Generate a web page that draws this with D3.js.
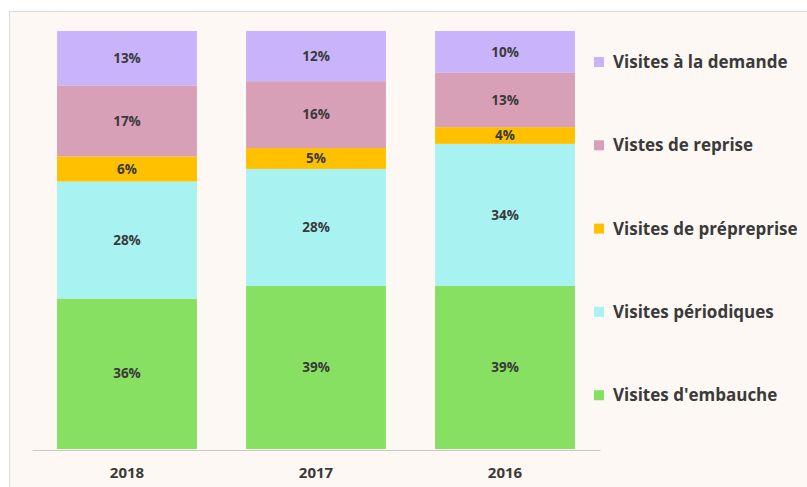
<!DOCTYPE html>
<html>
<head>
<meta charset="utf-8">
<script src="https://cdn.jsdelivr.net/npm/d3@7"></script>
<style>
  body { margin: 0; background: #ffffff; }
  text { font-family: "Open Sans", Lato, sans-serif; font-weight: bold; fill: #3a3a3a; }
</style>
</head>
<body>
<svg id="chart" width="807" height="487"></svg>
<script>
// data
var years = ["2018", "2017", "2016"];
var series = ["Visites d'embauche", "Visites périodiques", "Visites de prépreprise", "Vistes de reprise", "Visites à la demande"];
var embauche   = [36, 39, 39];
var periodiques = [28, 28, 34];
var prereprise = [6, 5, 4];
var reprise    = [17, 16, 13];
var demande    = [13, 12, 10];
var colors = ["#88e062", "#a8f3f1", "#ffc000", "#d8a0b6", "#c9b4fb"];

var rows = years.map(function(y, i) {
  return { year: y, s0: embauche[i], s1: periodiques[i], s2: prereprise[i], s3: reprise[i], s4: demande[i] };
});
var keys = ["s0", "s1", "s2", "s3", "s4"];

var svg = d3.select("#chart");

// background frame
svg.append("rect")
    .attr("x", 9.5).attr("y", 11.5)
    .attr("width", 820).attr("height", 490)
    .attr("fill", "#fdf8f3")
    .attr("stroke", "#dcdcdc");

var x = d3.scaleBand().domain(years).range([32, 600]).paddingInner(0.26).paddingOuter(0.1325);
var y = d3.scaleLinear().domain([0, 100]).range([449, 31]);

var stack = d3.stack().keys(keys);
var layers = stack(rows);

var g = svg.append("g");
layers.forEach(function(layer, li) {
  var lg = g.append("g").attr("fill", colors[li]);
  lg.selectAll("rect")
    .data(layer)
    .enter().append("rect")
    .attr("x", function(d) { return x(d.data.year); })
    .attr("y", function(d) { return y(d[1]); })
    .attr("width", x.bandwidth())
    .attr("height", function(d) { return y(d[0]) - y(d[1]); });

  g.append("g").selectAll("text")
    .data(layer)
    .enter().append("text")
    .attr("x", function(d) { return x(d.data.year) + x.bandwidth() / 2; })
    .attr("y", function(d) { return (y(d[0]) + y(d[1])) / 2; })
    .attr("dy", "0.35em")
    .style("text-anchor", "middle")
    .style("font-size", "13.5px")
    .text(function(d) { return (d[1] - d[0]) + "%"; });
});

// axis
var xAxis = svg.append("g")
    .attr("transform", "translate(0,450)")
    .call(d3.axisBottom(x).tickSize(0).tickPadding(17));
xAxis.select(".domain").attr("stroke", "#c8c8c8");
xAxis.selectAll("text").style("font-size", "15px").attr("fill", "#3a3a3a")
    .style("font-family", "'Open Sans', sans-serif").style("font-weight", "bold");

// legend, top item is the top layer
var leg = svg.append("g");
var order = series.map(function(s, i) { return i; }).reverse();
order.forEach(function(si, k) {
  var ly = 62 + k * 83.3;
  leg.append("rect")
    .attr("x", 594).attr("y", ly - 5)
    .attr("width", 10).attr("height", 10)
    .attr("fill", colors[si]);
  leg.append("text")
    .attr("x", 613).attr("y", ly)
    .attr("dy", "0.35em")
    .style("font-size", "17px")
    .text(series[si]);
});
</script>
</body>
</html>
